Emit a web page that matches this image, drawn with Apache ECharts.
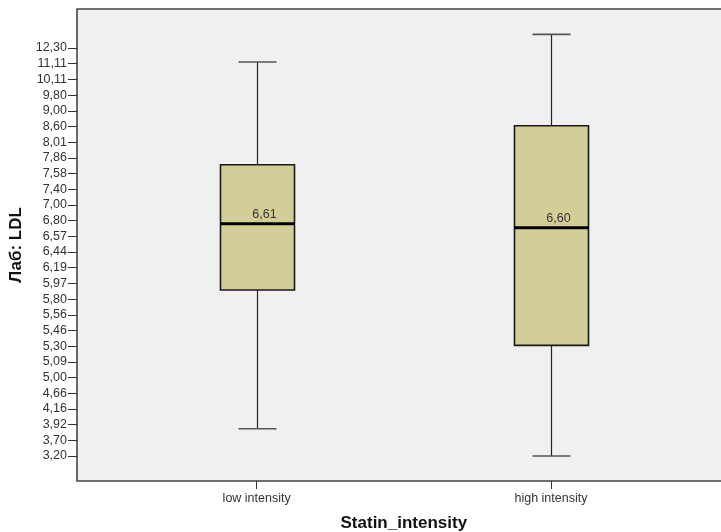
<!DOCTYPE html>
<html>
<head>
<meta charset="utf-8">
<script src="https://cdn.jsdelivr.net/npm/echarts@6/dist/echarts.min.js"></script>
<style>
  html, body { margin: 0; padding: 0; background: #ffffff; }
  #chart { width: 721px; height: 532px; }
</style>
</head>
<body>
<div id="chart"></div>
<script>
// Groups on the horizontal axis
const categories = ['low intensity', 'high intensity'];

// Ordinal LDL scale: tick labels from bottom (rank 0) to top (rank 26)
const yTickLabels = ['3,20', '3,70', '3,92', '4,16', '4,66', '5,00', '5,09', '5,30', '5,46',
  '5,56', '5,80', '5,97', '6,19', '6,44', '6,57', '6,80', '7,00', '7,40', '7,58', '7,86',
  '8,01', '8,60', '9,00', '9,80', '10,11', '11,11', '12,30'];

// Box statistics on the ordinal scale: [lower whisker, Q1, median, Q3, upper whisker]
const lowIntensity = [1.74, 10.58, 14.80, 18.56, 25.11];
const highIntensity = [0.00, 7.05, 14.55, 21.05, 26.87];

// Median LDL values printed above the median lines
const medianValues = [6.61, 6.60];

const FONT = "'Liberation Sans', Arial, sans-serif";
const yRange = { min: -1.593, max: 28.486 };
const tickIdx = yTickLabels.map((_, i) => i);

const boxData = [
  [0].concat(lowIntensity),
  [1].concat(highIntensity)
];

function fmtComma(v) { return v.toFixed(2).replace('.', ','); }

function renderBox(params, api) {
  const cat = api.value(0);
  const pMin = api.coord([cat, api.value(1)]);
  const pQ1 = api.coord([cat, api.value(2)]);
  const pMed = api.coord([cat, api.value(3)]);
  const pQ3 = api.coord([cat, api.value(4)]);
  const pMax = api.coord([cat, api.value(5)]);
  const x = Math.round(pMed[0]) + 0.5;
  const half = 37, capHalf = 19;
  const whisker = { stroke: '#222', lineWidth: 1.2 };
  const cap = { stroke: '#555', lineWidth: 1.6 };
  return {
    type: 'group',
    children: [
      { type: 'line', shape: { x1: x, y1: pMax[1], x2: x, y2: pQ3[1] }, style: whisker },
      { type: 'line', shape: { x1: x, y1: pQ1[1], x2: x, y2: pMin[1] }, style: whisker },
      { type: 'line', shape: { x1: x - capHalf, y1: pMax[1], x2: x + capHalf, y2: pMax[1] }, style: cap },
      { type: 'line', shape: { x1: x - capHalf, y1: pMin[1], x2: x + capHalf, y2: pMin[1] }, style: cap },
      {
        type: 'rect',
        shape: { x: x - half, y: pQ3[1], width: half * 2, height: pQ1[1] - pQ3[1] },
        style: { fill: '#d3ce97', stroke: '#1a1a1a', lineWidth: 1.6 }
      },
      { type: 'line', shape: { x1: x - half, y1: pMed[1], x2: x + half, y2: pMed[1] }, style: { stroke: '#000', lineWidth: 3 } },
      {
        type: 'text',
        style: {
          text: fmtComma(medianValues[params.dataIndex]),
          x: x + 7, y: pMed[1] - 3,
          align: 'center', verticalAlign: 'bottom',
          font: '12.5px ' + FONT, fill: '#333'
        }
      }
    ]
  };
}

const chart = echarts.init(document.getElementById('chart'), null, { renderer: 'canvas' });
chart.setOption({
  animation: false,
  backgroundColor: '#ffffff',
  grid: [
    { left: 77, top: 9, width: 700, bottom: 51, show: true, containLabel: false, outerBoundsMode: 'none',
      backgroundColor: '#f0f0f0', borderColor: '#444', borderWidth: 1.6 },
    { left: 109.5, top: 9, width: 588.6, bottom: 51, containLabel: false, outerBoundsMode: 'none' }
  ],
  xAxis: [
    { type: 'value', gridIndex: 0, show: false },
    {
      type: 'category', gridIndex: 1, data: categories, boundaryGap: true,
      axisLine: { show: false, onZero: false },
      axisTick: { show: true, alignWithLabel: true, length: 8, lineStyle: { color: '#333', width: 1 } },
      axisLabel: { margin: 11, fontSize: 12.5, fontFamily: FONT, color: '#333' },
      splitLine: { show: false },
      name: 'Statin_intensity', nameLocation: 'middle', nameGap: 34,
      nameTextStyle: { fontSize: 17, fontWeight: 'bold', fontFamily: FONT, color: '#111' }
    }
  ],
  yAxis: [
    {
      type: 'value', gridIndex: 0, min: yRange.min, max: yRange.max,
      axisLine: { show: false },
      axisTick: { show: true, length: 9, customValues: tickIdx, lineStyle: { color: '#333', width: 1 } },
      axisLabel: {
        margin: 10, fontSize: 12.5, fontFamily: FONT, color: '#333',
        customValues: tickIdx,
        formatter: v => yTickLabels[Math.round(v)]
      },
      splitLine: { show: false },
      name: 'Лаб: LDL', nameLocation: 'middle', nameGap: 52, nameRotate: 90,
      nameTextStyle: { fontSize: 17, fontWeight: 'bold', fontFamily: FONT, color: '#111' }
    },
    { type: 'value', gridIndex: 1, min: yRange.min, max: yRange.max, show: false }
  ],
  series: [
    {
      type: 'custom',
      xAxisIndex: 1, yAxisIndex: 1,
      renderItem: renderBox,
      encode: { x: 0, y: [1, 2, 3, 4, 5] },
      data: boxData,
      clip: false
    }
  ]
});
</script>
</body>
</html>
